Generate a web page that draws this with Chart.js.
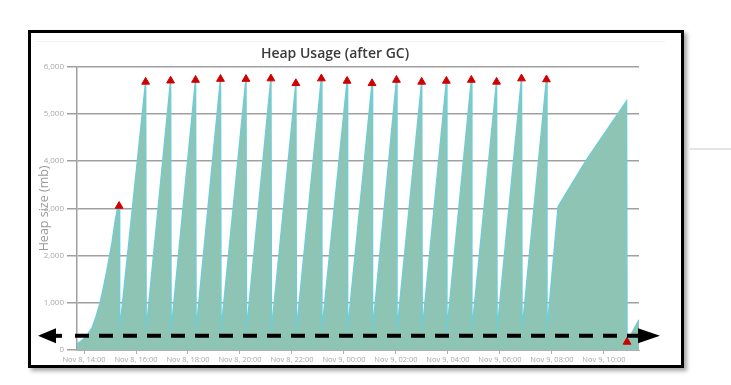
<!DOCTYPE html>
<html>
<head>
<meta charset="utf-8">
<script src="https://cdn.jsdelivr.net/npm/chart.js@4/dist/chart.umd.min.js"></script>
<style>
  html, body { margin: 0; padding: 0; background: #ffffff; width: 731px; height: 385px; overflow: hidden; }
  #frame { position: absolute; left: 28px; top: 30px; width: 656px; height: 338px; box-sizing: border-box;
           border: 3px solid #000; background: #fff; box-shadow: 3px 3px 4px rgba(0,0,0,0.35); }
  #frame canvas { position: absolute; left: 0; top: 0; }
  #topline { position: absolute; left: 4px; top: 8px; width: 630px; height: 1px; background: #f3f3f3; }
  #sideline { position: absolute; left: 690px; top: 148px; width: 41px; height: 2px; background: #e4e4e4; }
</style>
</head>
<body>
<div id="sideline"></div>
<div id="frame">
  <div id="topline"></div>
  <canvas id="c" width="650" height="332"></canvas>
</div>
<script>
// ---- data (hours since Nov 8 00:00, heap in MB) ----
const timeHours = [
  13.73, 13.85, 14.00, 14.15, 14.31, 14.46, 14.62, 14.77, 14.92, 15.08, 15.19, 15.27, 15.35, 15.37,
  16.37, 16.39, 17.33, 17.35, 18.29, 18.31, 19.25, 19.27, 20.23, 20.25,
  21.19, 21.21, 22.15, 22.17, 23.13, 23.15, 24.12, 24.14, 25.08, 25.10,
  26.02, 26.04, 26.99, 27.01, 27.94, 27.96, 28.90, 28.92, 29.87, 29.89,
  30.83, 30.85, 31.79, 31.81, 32.24, 33.33, 34.87, 34.89, 35.35
];
const heapMb = [
  130, 170, 240, 340, 470, 700, 1000, 1380, 1800, 2280, 2700, 2950, 3050, 400,
  5680, 400, 5705, 400, 5720, 400, 5740, 400, 5740, 400,
  5750, 400, 5650, 400, 5750, 400, 5700, 400, 5650, 400,
  5720, 400, 5680, 400, 5700, 400, 5720, 400, 5680, 400,
  5750, 400, 5730, 400, 3040, 4030, 5270, 170, 640
];
const gcTimes = [15.35, 16.37, 17.33, 18.29, 19.25, 20.23, 21.19, 22.15, 23.13, 24.12,
                 25.08, 26.02, 26.99, 27.94, 28.90, 29.87, 30.83, 31.79, 34.89];
const gcMb    = [3050, 5680, 5705, 5720, 5740, 5740, 5750, 5650, 5750, 5700,
                 5650, 5720, 5680, 5700, 5720, 5680, 5750, 5730, 170];
const tickHours  = [14, 16, 18, 20, 22, 24, 26, 28, 30, 32, 34];
const tickLabels = ['Nov 8, 14:00', 'Nov 8, 16:00', 'Nov 8, 18:00', 'Nov 8, 20:00', 'Nov 8, 22:00',
                    'Nov 9, 00:00', 'Nov 9, 02:00', 'Nov 9, 04:00', 'Nov 9, 06:00', 'Nov 9, 08:00', 'Nov 9, 10:00'];
const yTicks = [0, 1000, 2000, 3000, 4000, 5000, 6000];
const xRange = [13.73, 35.35];
const arrowLevel = 300;

const heapPoints = timeHours.map((t, i) => ({ x: t, y: heapMb[i] }));
const gcPoints = gcTimes.map((t, i) => ({ x: t, y: gcMb[i] }));

const arrowPlugin = {
  id: 'arrow',
  afterDatasetsDraw(chart) {
    const ctx = chart.ctx;
    const a = chart.chartArea;
    const y = chart.scales.y.getPixelForValue(arrowLevel);
    const lt = a.left - 39, rt = a.right + 21;
    ctx.save();
    ctx.strokeStyle = '#000';
    ctx.fillStyle = '#000';
    ctx.lineWidth = 4;
    ctx.setLineDash([14, 10]);
    ctx.beginPath();
    ctx.moveTo(a.left - 2, y);
    ctx.lineTo(rt - 22, y);
    ctx.stroke();
    ctx.setLineDash([]);
    ctx.beginPath();
    ctx.moveTo(lt + 12, y);
    ctx.lineTo(lt + 24, y);
    ctx.stroke();
    ctx.beginPath();
    ctx.moveTo(lt, y);
    ctx.lineTo(lt + 18, y - 7.5);
    ctx.lineTo(lt + 18, y + 7.5);
    ctx.closePath();
    ctx.fill();
    ctx.beginPath();
    ctx.moveTo(rt, y);
    ctx.lineTo(rt - 22, y - 7.5);
    ctx.lineTo(rt - 22, y + 7.5);
    ctx.closePath();
    ctx.fill();
    ctx.restore();
  }
};

new Chart(document.getElementById('c'), {
  type: 'line',
  data: {
    datasets: [
      {
        label: 'GC',
        data: gcPoints,
        showLine: false,
        pointStyle: 'triangle',
        pointRadius: 4.5,
        backgroundColor: '#d00000',
        borderColor: '#d00000',
        borderWidth: 1,
        order: 0
      },
      {
        label: 'Heap',
        data: heapPoints,
        fill: 'origin',
        backgroundColor: 'rgba(142, 196, 180, 1)',
        borderColor: '#72ccd4',
        borderWidth: 1.5,
        pointRadius: 0,
        tension: 0,
        order: 1
      }
    ]
  },
  options: {
    responsive: false,
    devicePixelRatio: 1,
    animation: false,
    layout: { padding: { left: 0, right: 42, top: 0, bottom: 0 } },
    plugins: {
      legend: { display: false },
      tooltip: { enabled: false },
      title: {
        display: true,
        text: 'Heap Usage (after GC)',
        color: '#3a3a3a',
        font: { family: 'Open Sans', size: 14, weight: '600' },
        padding: { top: 13, bottom: 4 }
      }
    },
    scales: {
      x: {
        type: 'linear',
        min: xRange[0],
        max: xRange[1],
        afterBuildTicks: (s) => { s.ticks = tickHours.map(v => ({ value: v })); },
        afterFit: (s) => { s.height = 15; },
        ticks: {
          autoSkip: false,
          maxRotation: 0,
          color: '#a8a8a8',
          padding: 1,
          font: { family: 'Open Sans', size: 7.5 },
          callback: (v) => { const i = tickHours.indexOf(v); return i >= 0 ? tickLabels[i] : ''; }
        },
        grid: { drawOnChartArea: false, tickLength: 4, color: '#b0b0b0', lineWidth: 1 },
        border: { display: true, color: '#b0b0b0', width: 1 }
      },
      y: {
        min: 0,
        max: 6000,
        afterBuildTicks: (s) => { s.ticks = yTicks.map(v => ({ value: v })); },
        afterFit: (s) => { s.width = 46; },
        ticks: {
          color: '#a8a8a8',
          padding: 3,
          font: { family: 'Open Sans', size: 8 },
          callback: (v) => v.toLocaleString('en-US')
        },
        grid: { color: '#a0a0a0', lineWidth: 1.5, tickLength: 10 },
        border: { color: '#a0a0a0', width: 1.5 },
        title: {
          display: true,
          text: 'Heap size (mb)',
          color: '#9a9a9a',
          font: { family: 'Open Sans', size: 12.5 },
          padding: { top: 6, bottom: 0 }
        }
      }
    }
  },
  plugins: [arrowPlugin]
});
</script>
</body>
</html>
